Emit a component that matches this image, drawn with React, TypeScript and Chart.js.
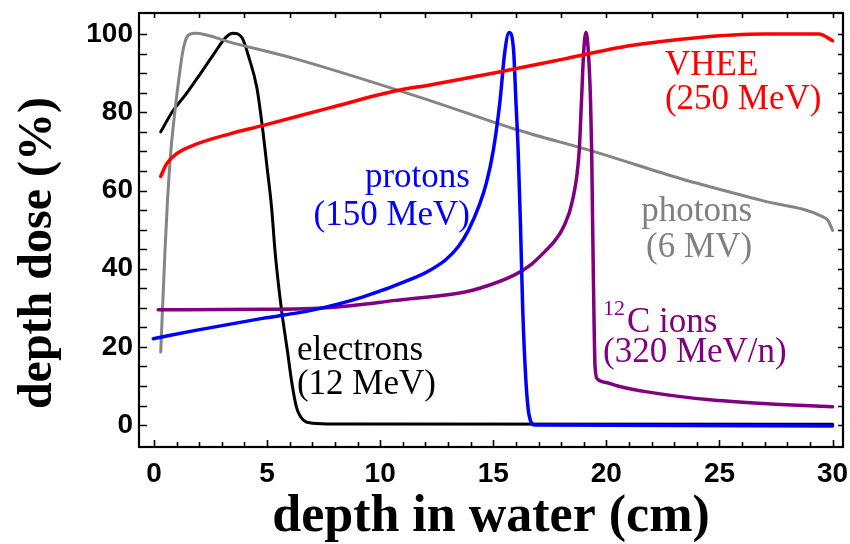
import React, { useEffect, useRef } from 'react';
import { Chart, registerables } from 'chart.js';

Chart.register(...registerables);

// ---- tick labels ----
const xTickLabels = [0, 5, 10, 15, 20, 25, 30];
const yTickLabels = [0, 20, 40, 60, 80, 100];

// ---- series (depth in cm, dose in %) ----
const electronsDepth = [0.3, 0.84, 1.4, 1.9, 2.6, 3.2, 3.5, 3.9, 4.2, 4.55, 4.8, 5.0, 5.2, 5.35, 5.5, 5.66, 5.9, 6.1, 6.3, 6.6, 7.0, 8.0, 30.0];
const electronsDose = [75, 80.4, 84.5, 88.6, 94.5, 99.3, 100.2, 99, 94, 86.3, 76, 66, 55.7, 44.7, 36.2, 28.6, 19, 10.7, 4.6, 1.3, 0.5, 0.3, 0.2];

const photonsDepth = [0.3, 0.49, 0.6, 0.75, 0.93, 1.11, 1.28, 1.5, 1.81, 3.5, 6.3, 12.2, 15.9, 19.6, 23.3, 26.9, 29.6, 29.8, 30.0];
const photonsDose = [18.7, 44.7, 57.4, 70.2, 80.4, 88.9, 95.7, 99.6, 100.2, 97.7, 93.6, 83, 75.8, 69.7, 63, 57.4, 53.2, 52.3, 49.8];

const vheeDepth = [0.3, 0.56, 1.0, 1.9, 3.36, 4.8, 7.8, 10.7, 12.2, 15.15, 18.1, 21.0, 24.0, 26.9, 29.4, 30.0];
const vheeDose = [63.6, 66.8, 69.4, 71.9, 74.5, 76.6, 81.2, 85.5, 87.0, 90.2, 93.6, 97.0, 99.1, 100, 100, 98.3];

const protonsDepth = [-0.03, 1.9, 4.8, 7.0, 9.25, 11.45, 12.2, 12.9, 13.45, 13.9, 14.4, 14.7, 15.0, 15.3, 15.5, 15.7, 15.9, 16.0, 16.1, 16.2, 16.3, 16.45, 16.6, 16.85, 30.0];
const protonsDose = [22.1, 24.3, 27.3, 29.4, 32.8, 37.5, 39.6, 42.3, 45.6, 49.8, 56.5, 62, 70.2, 83, 95, 100.4, 95.7, 83, 70.2, 52, 30, 10.7, 2.1, 0, -0.2];

const carbonDepth = [0.19, 4.8, 7.8, 10.7, 13.7, 14.4, 15.9, 16.7, 17.3, 17.7, 18.1, 18.5, 18.8, 18.9, 19.0, 19.1, 19.2, 19.3, 19.35, 19.38, 19.42, 19.46, 19.5, 19.6, 20.0, 20.5, 21.8, 24.7, 27.7, 30.0];
const carbonDose = [29.5, 29.6, 30.1, 31.9, 34, 35, 38.3, 41.2, 44.5, 47, 50.6, 57.4, 70.2, 83, 95.7, 100.5, 95.7, 83, 70.2, 57, 40, 25, 15, 11.8, 10.9, 10.0, 8.5, 6.4, 5.3, 4.7];

const toPoints = (xs: number[], ys: number[]) => xs.map((x, i) => ({ x, y: ys[i] }));

// ---- in-plot labels (anchored in data units) ----
type Seg = { t: string; sup?: boolean };
type Label = { lines: Seg[][]; x: number; ys: number[]; align: 'left' | 'right'; color: string };
const curveLabels: Label[] = [
  { lines: [[{ t: 'VHEE' }], [{ t: '(250 MeV)' }]], x: 22.59, ys: [89.6, 80.9], align: 'left', color: '#ff0000' },
  { lines: [[{ t: 'protons' }], [{ t: '(150 MeV)' }]], x: 13.97, ys: [60.8, 51.1], align: 'right', color: '#0000ff' },
  { lines: [[{ t: 'photons' }], [{ t: '(6 MV)' }]], x: 26.44, ys: [52.1, 42.9], align: 'right', color: '#808080' },
  { lines: [[{ t: 'electrons' }], [{ t: '(12 MeV)' }]], x: 6.32, ys: [16.6, 7.9], align: 'left', color: '#000000' },
  { lines: [[{ t: '12', sup: true }, { t: 'C ions' }], [{ t: '(320 MeV/n)' }]], x: 19.85, ys: [23.7, 16.1], align: 'left', color: '#800080' },
];

const SERIF = '"Liberation Serif", "Times New Roman", serif';
const SANS = '"Liberation Sans", Arial, sans-serif';

const frameTicksPlugin = {
  id: 'frameTicks',
  afterDraw(chart: any) {
    const { ctx, chartArea: a, scales } = chart;
    const xs = scales.x;
    const ys = scales.y;
    ctx.save();
    // ticks
    ctx.strokeStyle = '#000';
    ctx.lineWidth = 1.6;
    ctx.beginPath();
    for (let v = 0; v <= 30; v++) {
      const px = Math.round(xs.getPixelForValue(v)) + 0.5;
      const len = v % 5 === 0 ? 7 : 5;
      ctx.moveTo(px, a.bottom);
      ctx.lineTo(px, a.bottom - len);
    }
    for (let v = 0; v <= 30; v += 2) {
      const px = Math.round(xs.getPixelForValue(v)) + 0.5;
      ctx.moveTo(px, a.top);
      ctx.lineTo(px, a.top + 5);
    }
    for (let v = 0; v <= 100; v += 5) {
      const py = Math.round(ys.getPixelForValue(v)) + 0.5;
      ctx.moveTo(a.left, py);
      ctx.lineTo(a.left + 8, py);
      ctx.moveTo(a.right, py);
      ctx.lineTo(a.right - 5, py);
    }
    ctx.stroke();
    // frame
    ctx.lineWidth = 2.2;
    ctx.strokeRect(a.left, a.top, a.right - a.left, a.bottom - a.top);

    // y-axis title
    ctx.save();
    ctx.translate(ys.left + 39, ys.getPixelForValue(44));
    ctx.rotate(-Math.PI / 2);
    ctx.font = `bold 48px ${SERIF}`;
    ctx.textAlign = 'center';
    ctx.textBaseline = 'middle';
    ctx.fillStyle = '#000';
    ctx.fillText('depth dose (%)', 0, 0);
    ctx.restore();

    // curve labels
    ctx.textBaseline = 'alphabetic';
    ctx.textAlign = 'left';
    const mainFont = `35px ${SERIF}`;
    const supFont = `22px ${SERIF}`;
    for (const lab of curveLabels) {
      ctx.fillStyle = lab.color;
      lab.lines.forEach((line, li) => {
        const widths = line.map((s) => {
          ctx.font = s.sup ? supFont : mainFont;
          return ctx.measureText(s.t).width + (s.sup ? 2 : 0);
        });
        const total = widths.reduce((p, c) => p + c, 0);
        let px = xs.getPixelForValue(lab.x);
        if (lab.align === 'right') px -= total;
        const py = ys.getPixelForValue(lab.ys[li]);
        line.forEach((s, si) => {
          ctx.font = s.sup ? supFont : mainFont;
          ctx.fillText(s.t, px, s.sup ? py - 17 : py);
          px += widths[si];
        });
      });
    }
    ctx.restore();
  },
};

export default function App() {
  const canvasRef = useRef<HTMLCanvasElement | null>(null);

  useEffect(() => {
    const canvas = canvasRef.current;
    if (!canvas) return;
    const mk = (label: string, xs: number[], ys: number[], color: string, width: number, order: number) => ({
      label,
      data: toPoints(xs, ys),
      borderColor: color,
      backgroundColor: color,
      borderWidth: width,
      pointRadius: 0,
      fill: false,
      cubicInterpolationMode: 'monotone' as const,
      order,
    });
    const chart = new Chart(canvas, {
      type: 'line',
      data: {
        datasets: [
          mk('electrons (12 MeV)', electronsDepth, electronsDose, '#000000', 3, 5),
          mk('photons (6 MV)', photonsDepth, photonsDose, '#858585', 3, 4),
          mk('12C ions (320 MeV/n)', carbonDepth, carbonDose, '#800080', 3.5, 3),
          mk('protons (150 MeV)', protonsDepth, protonsDose, '#0000ff', 3.5, 2),
          mk('VHEE (250 MeV)', vheeDepth, vheeDose, '#ff0000', 3.5, 1),
        ],
      },
      options: {
        responsive: false,
        animation: false,
        devicePixelRatio: 1,
        layout: { padding: { top: 13, right: 7, left: 0, bottom: 0 } },
        plugins: { legend: { display: false }, tooltip: { enabled: false } },
        elements: { point: { radius: 0 }, line: { borderCapStyle: 'round', borderJoinStyle: 'round' } },
        scales: {
          x: {
            type: 'linear',
            min: -0.66,
            max: 30.46,
            grid: { display: false, drawTicks: false },
            border: { display: false },
            afterFit: (s: any) => { s.height = 97; s.paddingLeft = 0; s.paddingRight = 0; s.paddingTop = 0; s.paddingBottom = 0; },
            afterBuildTicks: (s: any) => { s.ticks = xTickLabels.map((v) => ({ value: v })); },
            ticks: { padding: 10, color: '#000', autoSkip: false, maxRotation: 0, font: { family: SANS, size: 28, weight: 'bold' } },
            title: {
              display: true,
              text: 'depth in water (cm)',
              color: '#000',
              font: { family: SERIF, size: 52, weight: 'bold', lineHeight: 1 },
              padding: { top: 0, bottom: 0 },
            },
          },
          y: {
            type: 'linear',
            min: -5.6,
            max: 105.4,
            grid: { display: false, drawTicks: false },
            border: { display: false },
            afterFit: (s: any) => { s.width = 139; s.paddingLeft = 0; s.paddingRight = 0; s.paddingTop = 0; s.paddingBottom = 0; },
            afterBuildTicks: (s: any) => { s.ticks = yTickLabels.map((v) => ({ value: v })); },
            ticks: { padding: 6, color: '#000', autoSkip: false, font: { family: SANS, size: 28, weight: 'bold' } },
          },
        },
      } as any,
      plugins: [frameTicksPlugin],
    });
    return () => chart.destroy();
  }, []);

  return (
    <div style={{ position: 'fixed', left: 0, top: 0, width: 850, height: 544, background: '#fff' }}>
      <canvas ref={canvasRef} width={850} height={544} style={{ display: 'block' }} />
    </div>
  );
}
